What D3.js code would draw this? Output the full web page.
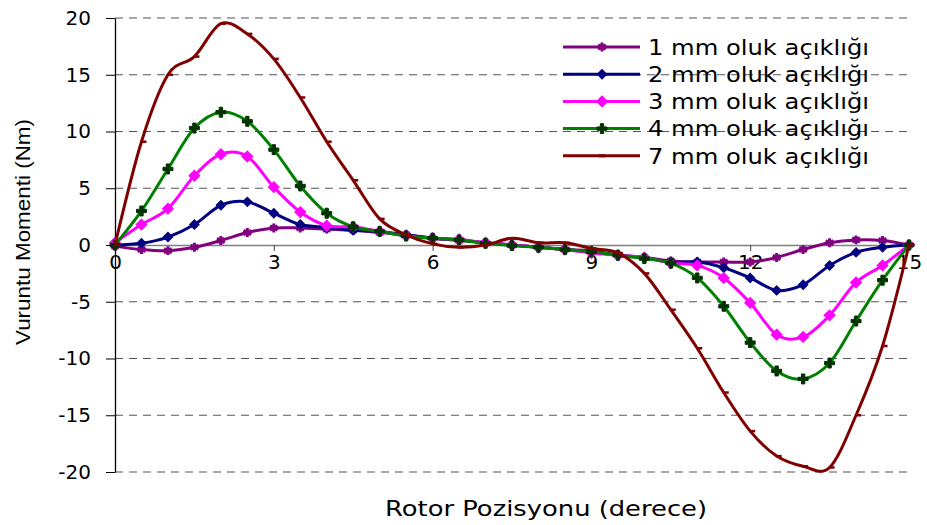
<!DOCTYPE html>
<html>
<head>
<meta charset="utf-8">
<script src="https://cdn.jsdelivr.net/npm/d3@7"></script>
<style>
  body { margin: 0; background: #fff; }
  svg { display: block; }
</style>
</head>
<body>
<div id="chart"></div>
<script>
// rotor position (degrees), one point every 0.5
const positions = d3.range(0, 15.01, 0.5);

const xTicks = [0, 3, 6, 9, 12, 15];
const yTicks = [-20, -15, -10, -5, 0, 5, 10, 15, 20];

const seriesNames = [
  "1 mm oluk açıklığı",
  "2 mm oluk açıklığı",
  "3 mm oluk açıklığı",
  "4 mm oluk açıklığı",
  "7 mm oluk açıklığı"
];

const mm1 = [-0.1, -0.4, -0.5, -0.2, 0.4, 1.1, 1.5, 1.5, 1.4, 1.3, 1.1, 0.9, 0.6, 0.4, 0.2, 0.0,
  -0.2, -0.4, -0.5, -0.9, -1.1, -1.4, -1.5, -1.5, -1.5, -1.1, -0.4, 0.2, 0.45, 0.4, 0.0];
const mm2 = [0.0, 0.15, 0.7, 1.8, 3.5, 3.8, 2.8, 1.8, 1.55, 1.3, 1.2, 0.9, 0.6, 0.45, 0.2, 0.0,
  -0.2, -0.4, -0.6, -0.9, -1.1, -1.5, -1.5, -2.0, -2.9, -4.0, -3.5, -1.8, -0.65, -0.2, 0.0];
const mm3 = [0.2, 1.8, 3.2, 6.1, 8.0, 7.8, 5.1, 2.9, 1.7, 1.6, 1.2, 0.8, 0.6, 0.5, 0.2, 0.0,
  -0.2, -0.4, -0.7, -0.9, -1.1, -1.6, -1.8, -2.9, -5.1, -7.9, -8.1, -6.2, -3.3, -1.8, 0.0];
const mm4 = [0.0, 3.0, 6.7, 10.3, 11.7, 10.9, 8.4, 5.2, 2.8, 1.6, 1.2, 0.8, 0.6, 0.45, 0.15, -0.05,
  -0.2, -0.4, -0.6, -0.9, -1.2, -1.6, -2.9, -5.4, -8.6, -11.1, -11.8, -10.4, -6.7, -3.1, 0.0];
const mm7 = [0.0, 9.1, 15.0, 16.6, 19.5, 18.6, 16.4, 13.0, 9.1, 5.7, 2.3, 0.9, 0.1, -0.2, 0.0, 0.6,
  0.2, 0.2, -0.3, -0.7, -2.5, -5.7, -9.1, -13.0, -16.4, -18.6, -19.5, -19.6, -15.0, -8.9, 0.0];

const allValues = [mm1, mm2, mm3, mm4, mm7];

// square rotated 45deg gives an even diamond like Excel's marker
const styles = [
  { line: "#800080", marker: "#800080", symbol: d3.symbolAsterisk, size: 55, stroke: true, rot: 0 },
  { line: "#000080", marker: "#000080", symbol: d3.symbolSquare, size: 45, stroke: false, rot: 45 },
  { line: "#FF00FF", marker: "#FF00FF", symbol: d3.symbolSquare, size: 60, stroke: false, rot: 45 },
  { line: "#008000", marker: "#003300", symbol: d3.symbolCross, size: 55, stroke: false, rot: 0 },
  { line: "#800000", marker: "#800000", symbol: null, size: 0, stroke: false, rot: 0 }
];

const width = 927, height = 525;
const margin = { top: 18, right: 17, bottom: 53, left: 115 };

const svg = d3.select("#chart").append("svg")
  .attr("width", width)
  .attr("height", height);

const x = d3.scaleLinear()
  .domain([0, 15])
  .range([margin.left, width - margin.right - 1]);

const y = d3.scaleLinear()
  .domain([-20, 20])
  .range([height - margin.bottom, margin.top]);

// dashed gridlines
svg.append("g")
  .selectAll("line")
  .data(yTicks.filter(d => d !== 0))
  .join("line")
  .attr("x1", x(0))
  .attr("x2", x(15))
  .attr("y1", d => y(d))
  .attr("y2", d => y(d))
  .attr("stroke", "#555")
  .attr("stroke-width", 1.2)
  .attr("stroke-dasharray", "8,6");

// x axis sits on y = 0
const xAxis = svg.append("g")
  .attr("transform", `translate(0,${y(0)})`)
  .call(d3.axisBottom(x).tickValues(xTicks).tickSize(6).tickPadding(4).tickFormat(d => String(d)));
xAxis.select(".domain").attr("stroke", "#808080").attr("stroke-width", 1.5);
xAxis.selectAll(".tick line").attr("stroke", "#444");
xAxis.selectAll(".tick text")
  .attr("font-family", "DejaVu Sans, Verdana, sans-serif")
  .attr("font-size", 20)
  .attr("fill", "#000");

// y axis
const yAxis = svg.append("g")
  .attr("transform", `translate(${x(0)},0)`)
  .call(d3.axisLeft(y).tickValues(yTicks).tickSize(9).tickPadding(15).tickSizeOuter(0)
    .tickFormat(d => String(d)));
yAxis.select(".domain").attr("stroke", "#000").attr("stroke-width", 1.3);
yAxis.selectAll(".tick line").attr("stroke", "#000");
yAxis.selectAll(".tick text")
  .attr("font-family", "DejaVu Sans, Verdana, sans-serif")
  .attr("font-size", 20)
  .attr("fill", "#000");

// smoothed lines
const line = d3.line()
  .x((d, i) => x(positions[i]))
  .y(d => y(d))
  .curve(d3.curveCatmullRom.alpha(0));

function drawMarker(sel, st) {
  sel.attr("d", d3.symbol(st.symbol, st.size))
    .attr("fill", st.stroke ? "none" : st.marker)
    .attr("stroke", st.marker)
    .attr("stroke-width", st.stroke ? 3 : 1);
}

allValues.forEach((vals, k) => {
  const st = styles[k];
  svg.append("path")
    .datum(vals)
    .attr("fill", "none")
    .attr("stroke", st.line)
    .attr("stroke-width", 3)
    .attr("d", line);

  const g = svg.append("g");
  if (st.symbol) {
    g.selectAll("path")
      .data(vals)
      .join("path")
      .attr("transform", (d, i) => `translate(${x(positions[i])},${y(d)}) rotate(${st.rot})`)
      .call(drawMarker, st);
  } else {
    // dash markers
    g.selectAll("line")
      .data(vals)
      .join("line")
      .attr("x1", (d, i) => x(positions[i]) - 1)
      .attr("x2", (d, i) => x(positions[i]) + 5)
      .attr("y1", d => y(d))
      .attr("y2", d => y(d))
      .attr("stroke", st.marker)
      .attr("stroke-width", 2.5);
  }
});

// legend
const legend = svg.append("g").attr("transform", "translate(563,47)");
seriesNames.forEach((name, k) => {
  const st = styles[k];
  const row = legend.append("g").attr("transform", `translate(0,${k * 27.2})`);
  row.append("line")
    .attr("x1", 0).attr("x2", 77)
    .attr("stroke", st.line)
    .attr("stroke-width", 3);
  if (st.symbol) {
    row.append("path")
      .attr("transform", `translate(39,0) rotate(${st.rot})`)
      .call(drawMarker, st);
  } else {
    row.append("line")
      .attr("x1", 36).attr("x2", 42)
      .attr("stroke", st.marker)
      .attr("stroke-width", 3);
  }
  row.append("text")
    .attr("x", 85)
    .attr("y", 0)
    .attr("dy", "0.35em")
    .attr("font-family", "DejaVu Sans, Verdana, sans-serif")
    .attr("font-size", 22)
    .attr("textLength", 221)
    .attr("lengthAdjust", "spacingAndGlyphs")
    .attr("fill", "#000")
    .text(name);
});

// axis titles
svg.append("text")
  .attr("transform", `translate(30,232) rotate(-90)`)
  .attr("text-anchor", "middle")
  .attr("font-family", "Liberation Sans, Arial, sans-serif")
  .attr("font-size", 21)
  .attr("textLength", 226)
  .attr("lengthAdjust", "spacingAndGlyphs")
  .attr("fill", "#000")
  .text("Vuruntu Momenti (Nm)");

svg.append("text")
  .attr("x", 546)
  .attr("y", 516)
  .attr("text-anchor", "middle")
  .attr("font-family", "DejaVu Sans, Verdana, sans-serif")
  .attr("font-size", 21)
  .attr("textLength", 322)
  .attr("lengthAdjust", "spacingAndGlyphs")
  .attr("fill", "#000")
  .text("Rotor Pozisyonu (derece)");
</script>
</body>
</html>
